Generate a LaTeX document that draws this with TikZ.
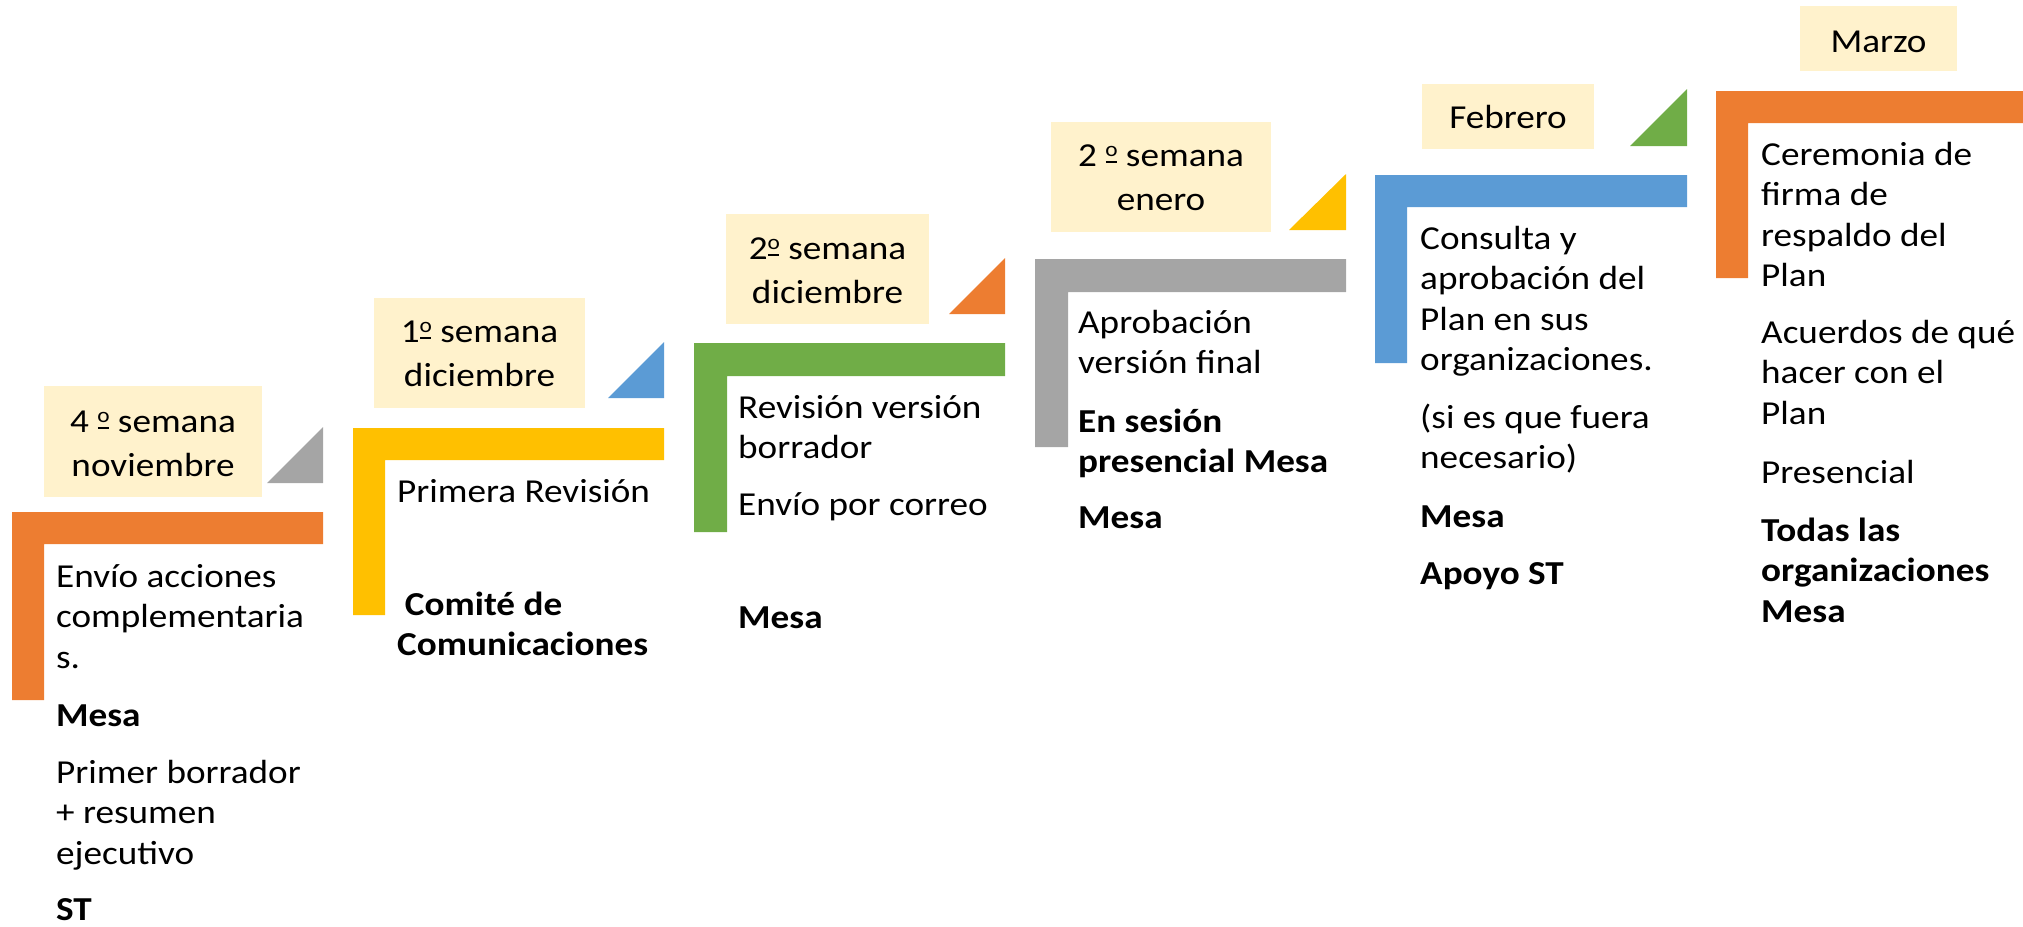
\documentclass[tikz,border=0pt]{standalone}
\usepackage{graphicx}
\usepackage{fontspec}
\setmainfont{Carlito}
\definecolor{cOrange}{HTML}{ED7D31}
\definecolor{cGray}{HTML}{A5A5A5}
\definecolor{cGold}{HTML}{FFC000}
\definecolor{cBlue}{HTML}{5B9BD5}
\definecolor{cGreen}{HTML}{70AD47}
\definecolor{cLabel}{HTML}{FFF2CC}
\newcommand{\Lshape}[6]{% x1,y1,x2,t,y3,color
  \fill[#6] (#1,#2) -- (#3,#2) -- (#3,#2+#4) -- (#1+#4,#2+#4) -- (#1+#4,#5) -- (#1,#5) -- cycle;}
\newcommand{\Tri}[5]{% xl,xr,ytop,ybot,color
  \fill[#5] (#1,#4) -- (#2,#4) -- (#2,#3) -- cycle;}
\newcommand{\LblBox}[4]{\fill[cLabel] (#1,#2) rectangle (#3,#4);}
\tikzset{
  txt/.style={anchor=base west, inner sep=0pt},
  lbl/.style={anchor=base, inner sep=0pt},
}
\newcommand{\Blk}[1]{\scalebox{1.11}[1]{\parbox[t]{300pt}{\raggedright\fontsize{33.5}{40.5}\selectfont #1}}}
\newcommand{\Lbl}[1]{\scalebox{1.11}[1]{\fontsize{33.5}{44}\selectfont\begin{tabular}[t]{@{}c@{}}#1\end{tabular}}}
\newcommand{\ordo}{\makebox[11pt][c]{\makebox[0pt][c]{\rule[3pt]{10pt}{2pt}}\makebox[0pt][c]{\raisebox{10pt}{\fontsize{21}{21}\selectfont o}}}}
\begin{document}
\begin{tikzpicture}[x=1pt,y=-1pt]
\useasboundingbox (0,0) rectangle (2023,926);
% column 1
\Lshape{12}{512}{323}{32}{700}{cOrange}
\Tri{267}{323}{427}{483}{cGray}
\LblBox{44}{386}{262}{497}
\node[lbl] (l1) at (153,432) {\Lbl{4 \ordo\ semana\\noviembre}};
\node[txt] (t1a) at (56,587) {\Blk{Envío acciones\\complementaria\\s.}};
\node[txt] (t1b) at (56,726) {\Blk{\bfseries Mesa}};
\node[txt] (t1c) at (56,783) {\Blk{Primer borrador\\+ resumen\\ejecutivo}};
\node[txt] (t1d) at (56,920) {\Blk{\bfseries ST}};
% column 2
\Lshape{353}{428}{664}{32}{615}{cGold}
\Tri{608}{664}{342}{398}{cBlue}
\LblBox{374}{298}{585}{408}
\node[lbl] (l2) at (479.5,342) {\Lbl{1\ordo\ semana\\diciembre}};
\node[txt] (t2a) at (397,502) {\Blk{Primera Revisión}};
\node[txt] (t2b) at (397,615) {\Blk{\bfseries\hspace*{7pt}Comité de\\Comunicaciones}};
% column 3
\Lshape{694}{343}{1005}{33}{532}{cGreen}
\Tri{949}{1005}{258}{314}{cOrange}
\LblBox{726}{214}{929}{324}
\node[lbl] (l3) at (827.5,259) {\Lbl{2\ordo\ semana\\diciembre}};
\node[txt] (t3a) at (738,418) {\Blk{Revisión versión\\borrador}};
\node[txt] (t3b) at (738,515) {\Blk{Envío por correo}};
\node[txt] (t3c) at (738,628) {\Blk{\bfseries Mesa}};
% column 4
\Lshape{1035}{259}{1346}{33}{447}{cGray}
\Tri{1289}{1346}{174}{230}{cGold}
\LblBox{1051}{122}{1271}{232}
\node[lbl] (l4) at (1161,166) {\Lbl{2 \ordo\ semana\\enero}};
\node[txt] (t4a) at (1078,333) {\Blk{Aprobación\\versión final}};
\node[txt] (t4b) at (1078,432) {\Blk{\bfseries En sesión\\presencial Mesa}};
\node[txt] (t4c) at (1078,528) {\Blk{\bfseries Mesa}};
% column 5
\Lshape{1375}{175}{1687}{32}{363}{cBlue}
\Tri{1630}{1687}{89}{146}{cGreen}
\LblBox{1422}{84}{1594}{149}
\node[lbl] (l5) at (1508,128) {\Lbl{Febrero}};
\node[txt] (t5a) at (1420,249) {\Blk{Consulta y\\aprobación del\\Plan en sus\\organizaciones.}};
\node[txt] (t5b) at (1420,428) {\Blk{(si es que fuera\\necesario)}};
\node[txt] (t5c) at (1420,527) {\Blk{\bfseries Mesa}};
\node[txt] (t5d) at (1420,584) {\Blk{\bfseries Apoyo ST}};
% column 6
\Lshape{1716}{91}{2023}{32}{278}{cOrange}
\LblBox{1800}{6}{1957}{71}
\node[lbl] (l6) at (1878.5,52) {\Lbl{Marzo}};
\node[txt] (t6a) at (1761,165) {\Blk{Ceremonia de\\firma de\\respaldo del\\Plan}};
\node[txt] (t6b) at (1761,343) {\Blk{Acuerdos de qué\\hacer con el\\Plan}};
\node[txt] (t6c) at (1761,483) {\Blk{Presencial}};
\node[txt] (t6d) at (1761,541) {\Blk{\bfseries Todas las\\organizaciones\\Mesa}};
\end{tikzpicture}
\end{document}
